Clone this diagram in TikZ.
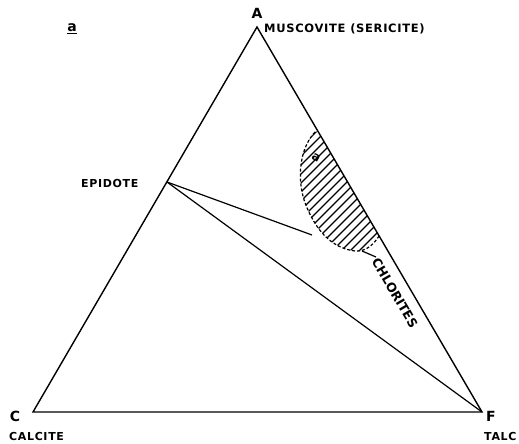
\documentclass[tikz,border=0pt]{standalone}
\usepackage{fontspec}
\setmainfont{DejaVu Sans}
\newfontfamily\lab[LetterSpace=6]{DejaVu Sans}
\tikzset{
  edge/.style={line width=1.4pt, line join=miter},
  tie/.style={line width=1.2pt},
  vtx/.style={inner sep=0pt, font=\fontsize{14}{14}\selectfont\bfseries},
  lbl/.style={inner sep=0pt, font=\lab\fontsize{11}{11}\selectfont\bfseries},
  dsh/.style={line width=1.2pt, dash pattern=on 3pt off 2pt},
  hatch/.style={line width=1.2pt}
}
\begin{document}
\begin{tikzpicture}[x=1pt,y=-1pt]
\useasboundingbox (0,0) rectangle (519,444);
\coordinate (A) at (257,27);
\coordinate (C) at (33,412);
\coordinate (F) at (482,412);
\coordinate (E) at (167,182);
\coordinate (T) at (312,235);
\coordinate (P1) at (318,131);
\coordinate (P2) at (379,236);
% hatched chlorite field
\begin{scope}
  \clip (P1) -- (315,132) .. controls (298,150) and (296,185) .. (308,210)
     .. controls (316,228) and (330,248) .. (355,251)
     .. controls (366,252) and (374,244) .. (P2) -- cycle;
  \foreach \c in {430,439,...,640}
    \draw[hatch] (\c-270,270) -- (\c-120,120);
\end{scope}
\draw[dsh] (315,132) .. controls (298,150) and (296,185) .. (308,210)
     .. controls (316,228) and (330,248) .. (355,251)
     .. controls (366,252) and (374,244) .. (P2);
\draw[tie] (362,251) -- (376,257);
\node[inner sep=0pt, font=\fontsize{12}{12}\selectfont\bfseries, rotate=-30] (mk) at (316,158) {a};
% triangle
\draw[edge] (A) -- (F) -- (C) -- cycle;
\draw[tie] (E) -- (T);
\draw[tie] (E) -- (F);
% labels
\node[vtx] (lA) at (257,13) {A};
\node[vtx] (lC) at (15,416) {C};
\node[vtx] (lF) at (491,416) {F};
\node[lbl, anchor=west, font=\lab\fontsize{11.5}{11.5}\selectfont\bfseries] (mus) at (264,29) {MUSCOVITE (SERICITE)};
\node[lbl, anchor=west] (epi) at (81,183) {EPIDOTE};
\node[lbl, anchor=west] (cal) at (9,436) {CALCITE};
\node[lbl, anchor=west] (tal) at (484,436) {TALC};
\node[lbl, rotate=-59.7, font=\fontsize{12.5}{12.5}\selectfont\bfseries] (chl) at (395,293) {CHLORITES};
\node[inner sep=0pt, font=\fontsize{14}{14}\selectfont\bfseries] (fig) at (72,29) {\underline{a}};
\end{tikzpicture}
\end{document}
